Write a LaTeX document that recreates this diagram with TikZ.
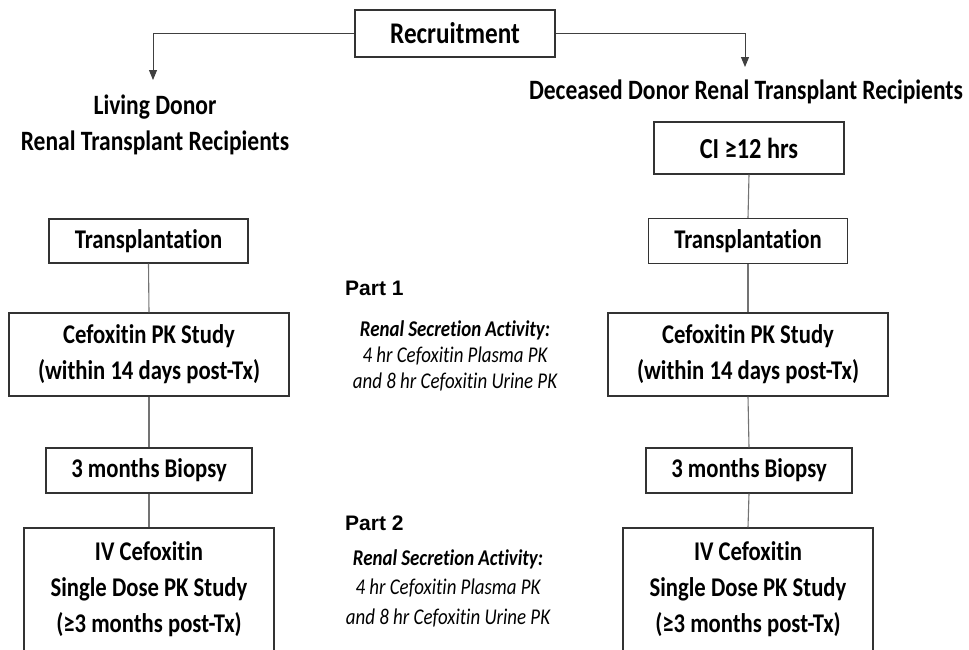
\documentclass[tikz,border=0pt]{standalone}
\usepackage{fontspec}
\setmainfont{Carlito}[FakeStretch=0.84, Ligatures=NoCommon]
\newfontfamily\partfont{Liberation Sans}
\usetikzlibrary{arrows.meta}

\tikzset{
  stepbox/.style={draw=black!80, line width=1.3pt, align=center, inner sep=0pt,
    font=\fontsize{27}{36}\selectfont\bfseries},
  head/.style={align=center, font=\fontsize{28}{36}\selectfont\bfseries},
  note/.style={align=center, font=\fontsize{22.5}{26}\selectfont\itshape},
  partlabel/.style={anchor=west, inner sep=0pt, font=\partfont\fontsize{21}{25}\selectfont\bfseries},
  link/.style={black!55, line width=1.1pt},
  split/.style={black!75, line width=1pt, -{Triangle[length=10pt, width=8pt]}}
}

\begin{document}
\begin{tikzpicture}[x=1pt,y=1pt]
\useasboundingbox (0,0) rectangle (969,-649);
\node[stepbox, minimum width=200, minimum height=47, font=\fontsize{30}{32}\selectfont\bfseries] (recruit) at (455,-33.5) {Recruitment};
\node[head] (living) at (155,-125) {Living Donor\\Renal Transplant Recipients};
\node[head] (deceased) at (746,-92) {Deceased Donor Renal Transplant Recipients};
\coordinate (livtip) at (153,-80);
\coordinate (dectip) at (745,-67);
\draw[split] (recruit.west) -| (livtip);
\draw[split] (recruit.east) -| (dectip);

% living donor column
\node[stepbox, minimum width=199, minimum height=44] (tpL) at (148.5,-241) {Transplantation};
\node[stepbox, minimum width=280, minimum height=83] (pkL) at (149,-354.5) {Cefoxitin PK Study\\(within 14 days post-Tx)};
\node[stepbox, minimum width=206, minimum height=45] (bxL) at (149,-470.5) {3 months Biopsy};
\node[stepbox, minimum width=250, minimum height=123] (ivL) at (149,-589.5) {IV Cefoxitin\\Single Dose PK Study\\(≥3 months post-Tx)};

% deceased donor column
\node[stepbox, minimum width=190, minimum height=52, font=\fontsize{29}{32}\selectfont\bfseries] (ci) at (749,-148) {CI ≥12 hrs};
\node[stepbox, minimum width=199, minimum height=45] (tpR) at (748,-241) {Transplantation};
\node[stepbox, minimum width=280, minimum height=83] (pkR) at (748,-354.5) {Cefoxitin PK Study\\(within 14 days post-Tx)};
\node[stepbox, minimum width=206, minimum height=45] (bxR) at (749,-470.5) {3 months Biopsy};
\node[stepbox, minimum width=250, minimum height=123] (ivR) at (748,-589.5) {IV Cefoxitin\\Single Dose PK Study\\(≥3 months post-Tx)};

\draw[link] (tpL.south) -- (pkL.north);
\draw[link] (pkL.south) -- (bxL.north);
\draw[link] (bxL.south) -- (ivL.north);
\draw[link] (ci.south) -- (tpR.north);
\draw[link] (tpR.south) -- (pkR.north);
\draw[link] (pkR.south) -- (bxR.north);
\draw[link] (bxR.south) -- (ivR.north);

% parts
\node[partlabel] (part1) at (345,-288) {Part 1};
\node[note] (sec1) at (455,-356) {\textbf{Renal Secretion Activity:}\\4 hr Cefoxitin Plasma PK\\and 8 hr Cefoxitin Urine PK};
\node[partlabel] (part2) at (345,-523) {Part 2};
\node[note, font=\fontsize{22.5}{29.5}\selectfont\itshape] (sec2) at (448,-588) {\textbf{Renal Secretion Activity:}\\4 hr Cefoxitin Plasma PK\\and 8 hr Cefoxitin Urine PK};
\end{tikzpicture}
\end{document}
